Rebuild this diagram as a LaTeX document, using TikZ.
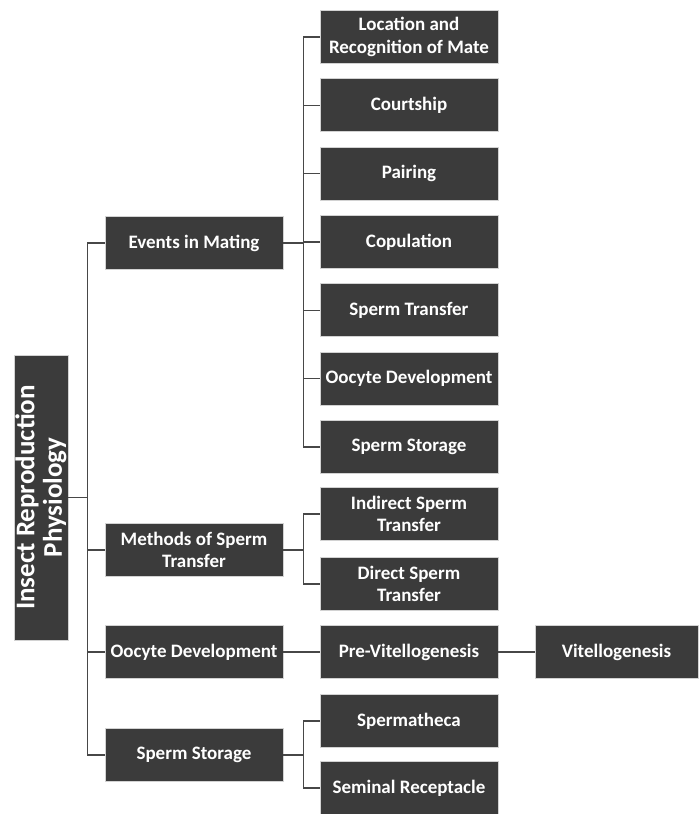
\documentclass[tikz,border=0pt]{standalone}
\usepackage{fontspec}
\setmainfont{Carlito}
\usetikzlibrary{positioning}
\definecolor{boxgray}{HTML}{3B3B3B}
\definecolor{edgegray}{HTML}{D2D2D2}
\definecolor{linkgray}{HTML}{474747}
\tikzset{
  topic/.style={fill=boxgray, draw=edgegray, line width=0.8pt, text=white,
    font=\bfseries\fontsize{19}{22.5}\selectfont, align=center,
    minimum width=178pt, minimum height=53pt, inner sep=1pt},
  root/.style={topic, rotate=90, minimum width=285pt, minimum height=54pt,
    font=\bfseries\fontsize{27}{27.5}\selectfont},
  link/.style={draw=linkgray, line width=1.1pt},
}

\begin{document}
\begin{tikzpicture}[x=1pt,y=-1pt]
  \useasboundingbox (0,0) rectangle (699,814);

  % root and first level
  \node[root] (root) at (41,497.5) {Insect Reproduction\\Physiology};
  \node[topic] (events) at (194,243) {Events in Mating};
  \node[topic] (methods) at (194,550) {Methods of Sperm\\Transfer};
  \node[topic] (oocyte) at (194,652) {Oocyte Development};
  \node[topic] (storage) at (194,755) {Sperm Storage};

  \foreach \n in {events,methods,oocyte,storage}
    \draw[link] (root.south) -- ++(19,0) |- (\n.west);

  % events in mating
  \foreach \n/\t [count=\i from 0] in {
      mate/{Location and\\Recognition of Mate},
      court/Courtship, pair/Pairing, copul/Copulation,
      transfer/Sperm Transfer, develop/Oocyte Development,
      store/Sperm Storage}{
    \node[topic] (\n) at (409,37+68.33*\i) {\t};
    \draw[link] (events.east) -- ++(20,0) |- (\n.west);
  }

  % methods of sperm transfer
  \node[topic] (indirect) at (409,514) {Indirect Sperm\\Transfer};
  \node[topic] (direct) at (409,584) {Direct Sperm\\Transfer};
  \foreach \n in {indirect,direct}
    \draw[link] (methods.east) -- ++(20,0) |- (\n.west);

  % oocyte development
  \node[topic] (previt) at (409,652) {Pre-Vitellogenesis};
  \node[topic, minimum width=163pt] (vitello) at (616.5,652) {Vitellogenesis};
  \draw[link] (oocyte) -- (previt);
  \draw[link] (previt) -- (vitello);

  % sperm storage
  \node[topic] (sperma) at (409,721) {Spermatheca};
  \node[topic] (seminal) at (409,788) {Seminal Receptacle};
  \foreach \n in {sperma,seminal}
    \draw[link] (storage.east) -- ++(20,0) |- (\n.west);
\end{tikzpicture}
\end{document}
